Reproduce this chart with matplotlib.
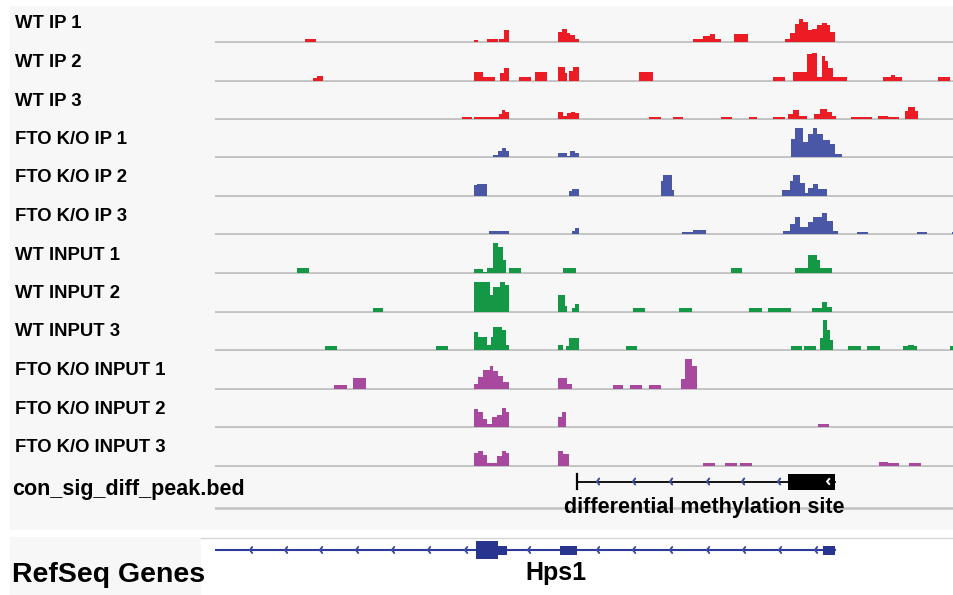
import matplotlib
matplotlib.use("Agg")
import matplotlib.pyplot as plt
from matplotlib.patches import Rectangle

plt.rcParams['font.family'] = ['Liberation Sans', 'DejaVu Sans']

W, H = 954, 595

# view window (screen bins of the browser)
view_start, view_end = 215, 954

track_names = ["WT IP 1", "WT IP 2", "WT IP 3",
               "FTO K/O IP 1", "FTO K/O IP 2", "FTO K/O IP 3",
               "WT INPUT 1", "WT INPUT 2", "WT INPUT 3",
               "FTO K/O INPUT 1", "FTO K/O INPUT 2", "FTO K/O INPUT 3"]
track_colors = ["#ec1c24"] * 3 + ["#4a57a6"] * 3 + ["#149845"] * 3 + ["#a8489e"] * 3

# coverage segments: (start, end, height)
wt_ip1 = [(305, 316, 3.3), (474, 478, 2), (487, 498, 3), (499, 504, 3), (504, 509, 12),
          (558, 562, 10), (562, 567, 13), (567, 570, 9), (570, 575, 7), (575, 579, 3),
          (693, 703, 3), (703, 710, 6), (710, 715, 8), (715, 721, 3), (734, 748, 8),
          (785, 790, 3), (790, 795, 9), (795, 799, 18), (799, 803, 23), (803, 808, 20),
          (808, 812, 12), (812, 817, 13), (817, 822, 17), (822, 827, 19), (827, 830, 17),
          (830, 835, 10)]
wt_ip2 = [(313, 317, 3), (317, 323, 4.3), (474, 483, 9), (483, 495, 4), (500, 504, 8),
          (504, 509, 13), (519, 531, 4), (535, 547, 9), (558, 565, 14), (565, 567, 8),
          (569, 573, 10), (573, 579, 14), (639, 653, 9), (773, 785, 4), (793, 807, 9),
          (807, 812, 27), (812, 817, 28), (817, 822, 4), (822, 825, 25), (825, 828, 20),
          (828, 833, 13), (833, 847, 4), (883, 891, 4), (891, 895, 6), (895, 902, 4),
          (938, 950, 4)]
wt_ip3 = [(462, 472, 1.7), (474, 483, 1.7), (483, 499, 1.7), (499, 502, 5), (502, 505, 9),
          (505, 509, 7), (558, 563, 7), (563, 567, 3), (567, 571, 6), (571, 575, 7),
          (575, 579, 6), (649, 661, 1.7), (673, 683, 1.7), (721, 732, 1.7), (749, 757, 1.7),
          (773, 785, 1.7), (788, 793, 5), (793, 799, 9), (799, 807, 3), (814, 820, 5),
          (820, 827, 10), (827, 832, 7), (832, 836, 3), (851, 872, 1.7), (878, 888, 2.5),
          (888, 899, 2), (905, 908, 8), (908, 915, 12), (915, 918, 8)]
fto_ip1 = [(474, 493, 0.4), (493, 498, 2), (498, 502, 6), (502, 506, 9), (506, 509, 6),
           (558, 567, 4), (567, 570, 1.5), (570, 575, 6), (575, 579, 4), (791, 795, 18),
           (795, 803, 29), (803, 808, 15), (808, 813, 23), (813, 817, 29), (817, 823, 23),
           (823, 830, 17), (830, 835, 13), (835, 842, 3), (906, 916, 0.4)]
fto_ip2 = [(474, 477, 11), (477, 487, 12), (569, 572, 5), (572, 579, 7), (661, 663, 15),
           (663, 672, 21), (672, 674, 6), (782, 790, 6), (790, 793, 15), (793, 800, 21),
           (800, 805, 13), (805, 808, 3), (808, 813, 8), (813, 818, 12), (818, 827, 7)]
fto_ip3 = [(489, 509, 3), (558, 567, 0.5), (572, 575, 3), (575, 579, 6), (682, 693, 2),
           (693, 706, 4), (783, 790, 3), (790, 795, 10), (795, 800, 17), (800, 808, 7),
           (808, 813, 12), (813, 822, 17), (822, 827, 21), (827, 833, 13), (833, 838, 3),
           (857, 868, 2), (917, 927, 2), (952, 954, 2)]
wt_in1 = [(297, 309, 5), (474, 483, 4), (483, 487, 1), (487, 493, 5), (493, 498, 30),
          (498, 503, 26), (503, 506, 13), (509, 521, 5), (563, 576, 5), (731, 742, 5),
          (795, 808, 5), (808, 817, 18), (817, 820, 13), (820, 832, 5)]
wt_in2 = [(373, 383, 4), (474, 490, 30), (490, 493, 17), (493, 500, 25), (500, 505, 30),
          (505, 509, 27), (558, 565, 17), (565, 567, 6), (572, 575, 4), (575, 579, 8),
          (633, 645, 4), (679, 692, 4), (749, 762, 4), (768, 791, 4), (812, 822, 4),
          (822, 827, 10), (827, 832, 5)]
wt_in3 = [(325, 337, 4), (436, 448, 4), (474, 478, 18), (478, 487, 13), (487, 491, 5),
          (491, 493, 13), (493, 502, 23), (502, 506, 20), (506, 509, 5), (558, 563, 5),
          (566, 569, 4), (569, 579, 12), (626, 637, 4), (791, 802, 4), (804, 816, 4),
          (820, 823, 12), (823, 827, 30), (827, 830, 20), (830, 833, 10), (848, 861, 4),
          (867, 880, 4), (903, 908, 4), (908, 914, 5), (914, 917, 4), (950, 954, 4)]
fto_in1 = [(334, 347, 4), (353, 366, 11), (474, 478, 5), (478, 483, 12), (483, 490, 19),
           (490, 493, 23), (493, 498, 18), (498, 503, 13), (503, 509, 7), (558, 567, 11),
           (567, 572, 5), (613, 623, 4), (630, 642, 4), (649, 661, 4), (681, 685, 10),
           (685, 692, 30), (692, 697, 23)]
fto_in2 = [(474, 478, 18), (478, 483, 15), (483, 487, 8), (487, 492, 3), (492, 497, 10),
           (497, 502, 12), (502, 506, 19), (506, 509, 15), (558, 562, 10), (562, 566, 15),
           (818, 829, 3)]
fto_in3 = [(474, 478, 13), (478, 483, 15), (483, 487, 11), (487, 497, 3), (497, 502, 10),
           (502, 506, 15), (506, 509, 13), (558, 563, 15), (563, 569, 12), (703, 715, 3),
           (725, 737, 3), (740, 752, 3), (879, 888, 3.5), (888, 899, 3), (909, 921, 3)]

tracks = [wt_ip1, wt_ip2, wt_ip3, fto_ip1, fto_ip2, fto_ip3,
          wt_in1, wt_in2, wt_in3, fto_in1, fto_in2, fto_in3]

# bed feature
bed_label = "con_sig_diff_peak.bed"
bed_name = "differential methylation site"
bed_start, bed_end, bed_thick_start = 577, 835, 788
bed_arrows = [597, 633, 670, 707, 742, 778]

# RefSeq gene (minus strand)
gene_name = "Hps1"
gene_start, gene_end = 215, 835
gene_exons = [(476, 498, 'cds'), (498, 507, 'utr'), (560, 577, 'utr'), (823, 835, 'utr')]
gene_arrows = [250, 285, 320, 356, 392, 428, 465, 528, 597, 633, 670, 707, 743, 779, 815]

fig = plt.figure(figsize=(W / 100, H / 100), dpi=100)


def px_axes(x0, y0, x1, y1):
    return fig.add_axes([x0 / W, 1 - y1 / H, (x1 - x0) / W, (y1 - y0) / H])


bg = px_axes(0, 0, W, H)
bg.set_xlim(0, W)
bg.set_ylim(H, 0)
bg.axis("off")
bg.add_patch(Rectangle((10, 6), W - 10, 524, color="#f7f7f7", lw=0))
bg.add_patch(Rectangle((10, 537), 191, H - 537, color="#f7f7f7", lw=0))
bg.plot([201, W], [537.5, 537.5], color="#d6d6d6", lw=1)

track_step = 38.5
first_base = 42
track_h = 34

for i, (name, segs, col) in enumerate(zip(track_names, tracks, track_colors)):
    base = first_base + i * track_step
    ax = px_axes(view_start, base - track_h, view_end, base + 1)
    ax.set_xlim(view_start, view_end)
    ax.set_ylim(-1, track_h)
    ax.axis("off")
    ax.axhline(0, color="#c2c2c2", lw=2, zorder=1)
    ax.bar([s for s, e, h in segs], [h for s, e, h in segs],
           width=[e - s for s, e, h in segs], align="edge",
           color=col, linewidth=0, zorder=2)
    bg.text(15, base - 13.5, name, fontsize=13.3, fontweight="bold", va="baseline")

# bed track
bed_ax = px_axes(view_start, 466, view_end, 530)
bed_ax.set_xlim(view_start, view_end)
bed_ax.set_ylim(64, 0)
bed_ax.axis("off")
bed_ax.plot([view_start, view_end], [42, 42], color="#c2c2c2", lw=1.8, zorder=1)
bed_ax.plot([bed_start, bed_end], [15.5, 15.5], color="black", lw=1.3, zorder=2)
bed_ax.plot([bed_start, bed_start], [8, 23], color="black", lw=1.6, zorder=2)
bed_ax.add_patch(Rectangle((bed_thick_start, 7.5), bed_end - bed_thick_start, 16,
                           color="black", lw=0, zorder=3))
for a in bed_arrows:
    bed_ax.plot([a + 2.2, a, a + 2.2], [12.5, 15.5, 18.5], color="#3a4ba0", lw=1.4,
                zorder=3, solid_capstyle="round")
bed_ax.plot([829.2, 827, 829.2], [13, 15.5, 18], color="white", lw=1.4, zorder=4)
bed_ax.text((bed_start + bed_end) / 2 - 2, 47, bed_name, ha="center", va="baseline",
            fontsize=15.5, fontweight="bold", zorder=5)
bg.text(12, 495, bed_label, fontsize=15.5, fontweight="bold", va="baseline")

# gene track
gene_ax = px_axes(view_start, 537, view_end, H)
gene_ax.set_xlim(view_start, view_end)
gene_ax.set_ylim(H - 537, 0)
gene_ax.axis("off")
gy = 13
gene_ax.plot([gene_start, gene_end], [gy, gy], color="#2e3a99", lw=1.5, zorder=1)
for s, e, kind in gene_exons:
    hh = 18 if kind == 'cds' else 9
    gene_ax.add_patch(Rectangle((s, gy - hh / 2), e - s, hh, color="#28358f", lw=0, zorder=2))
for a in gene_arrows:
    gene_ax.plot([a + 2.2, a, a + 2.2], [gy - 3, gy, gy + 3], color="#3a4ba0", lw=1.4,
                 zorder=3, solid_capstyle="round")
gene_ax.text(556, 43, gene_name, ha="center", va="baseline", fontsize=18, fontweight="bold")
bg.text(12, 582, "RefSeq Genes", fontsize=20.5, fontweight="bold", va="baseline")

fig.savefig("out.png", dpi=100)
